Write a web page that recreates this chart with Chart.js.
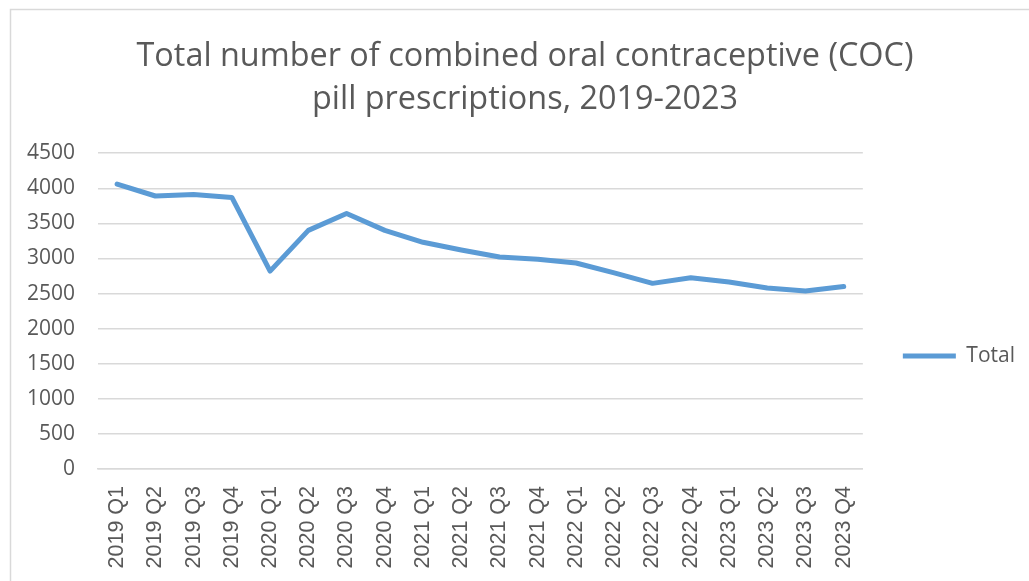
<!DOCTYPE html>
<html>
<head>
<meta charset="utf-8">
<script src="https://cdn.jsdelivr.net/npm/chart.js@4/dist/chart.umd.min.js"></script>
<style>
  html, body { margin: 0; padding: 0; background: #ffffff; }
  #wrap { position: relative; width: 1029px; height: 581px; }
</style>
</head>
<body>
<div id="wrap"><canvas id="c" width="1029" height="581"></canvas></div>
<script>
// Quarterly COC prescriptions
const quarters = [
  '2019 Q1', '2019 Q2', '2019 Q3', '2019 Q4',
  '2020 Q1', '2020 Q2', '2020 Q3', '2020 Q4',
  '2021 Q1', '2021 Q2', '2021 Q3', '2021 Q4',
  '2022 Q1', '2022 Q2', '2022 Q3', '2022 Q4',
  '2023 Q1', '2023 Q2', '2023 Q3', '2023 Q4'
];
const totalPrescriptions = [
  4060, 3890, 3910, 3870,
  2820, 3400, 3640, 3400,
  3230, 3120, 3020, 2990,
  2935, 2795, 2645, 2725,
  2665, 2580, 2535, 2600
];
const titleLines = [
  'Total number of combined oral contraceptive (COC)',
  'pill prescriptions, 2019-2023'
];
const seriesName = 'Total';

const textGrey = '#595959';
const lineBlue = '#5B9BD5';
const padLeft = 25;

// light frame around the chart object
const framePlugin = {
  id: 'frame',
  beforeDraw(chart) {
    const ctx = chart.ctx;
    ctx.save();
    ctx.fillStyle = '#ffffff';
    ctx.fillRect(0, 0, chart.width, chart.height);
    ctx.strokeStyle = '#d9d9d9';
    ctx.lineWidth = 1.5;
    ctx.beginPath();
    ctx.moveTo(10.5, chart.height + 5);
    ctx.lineTo(10.5, 9.5);
    ctx.lineTo(chart.width + 5, 9.5);
    ctx.stroke();
    ctx.restore();
  }
};

new Chart(document.getElementById('c'), {
  type: 'line',
  data: {
    labels: quarters,
    datasets: [{
      label: seriesName,
      data: totalPrescriptions,
      borderColor: lineBlue,
      backgroundColor: lineBlue,
      borderWidth: 5,
      borderCapStyle: 'round',
      borderJoinStyle: 'round',
      pointRadius: 0,
      pointHoverRadius: 0,
      tension: 0,
      fill: false
    }]
  },
  options: {
    responsive: false,
    animation: false,
    devicePixelRatio: 1,
    layout: { padding: { top: 10, left: padLeft, right: 4, bottom: 0 } },
    plugins: {
      title: {
        display: true,
        text: titleLines,
        color: textGrey,
        font: { family: '"Open Sans", sans-serif', size: 32.4, weight: 'normal', lineHeight: 1.33 },
        padding: { top: 25.5, bottom: 31.5 }
      },
      legend: {
        position: 'right',
        title: {
          display: true,
          text: ' ',
          font: { size: 10, lineHeight: 1 },
          padding: { top: 0, bottom: 111 }
        },
        labels: {
          usePointStyle: true,
          pointStyle: 'line',
          pointStyleWidth: 53,
          color: textGrey,
          font: { family: '"Open Sans", sans-serif', size: 21 },
          padding: 40
        }
      },
      tooltip: { enabled: false }
    },
    scales: {
      x: {
        offset: true,
        grid: { display: false, drawTicks: false },
        border: { display: true, color: '#d9d9d9', width: 1.5 },
        ticks: {
          autoSkip: false,
          maxRotation: 90,
          minRotation: 90,
          padding: 17,
          color: textGrey,
          font: { family: '"Liberation Sans", Arial, sans-serif', size: 21.5 }
        },
        afterFit(scale) { scale.height = 112; }
      },
      y: {
        min: 0,
        max: 4500,
        ticks: {
          stepSize: 500,
          padding: 23,
          color: textGrey,
          font: { family: '"Open Sans", sans-serif', size: 21 },
          callback: (v) => String(v)
        },
        grid: { color: '#d9d9d9', lineWidth: 1.5, drawTicks: false },
        border: { display: false },
        afterFit(scale) { scale.width = 98 - padLeft; }
      }
    }
  },
  plugins: [framePlugin]
});
</script>
</body>
</html>
